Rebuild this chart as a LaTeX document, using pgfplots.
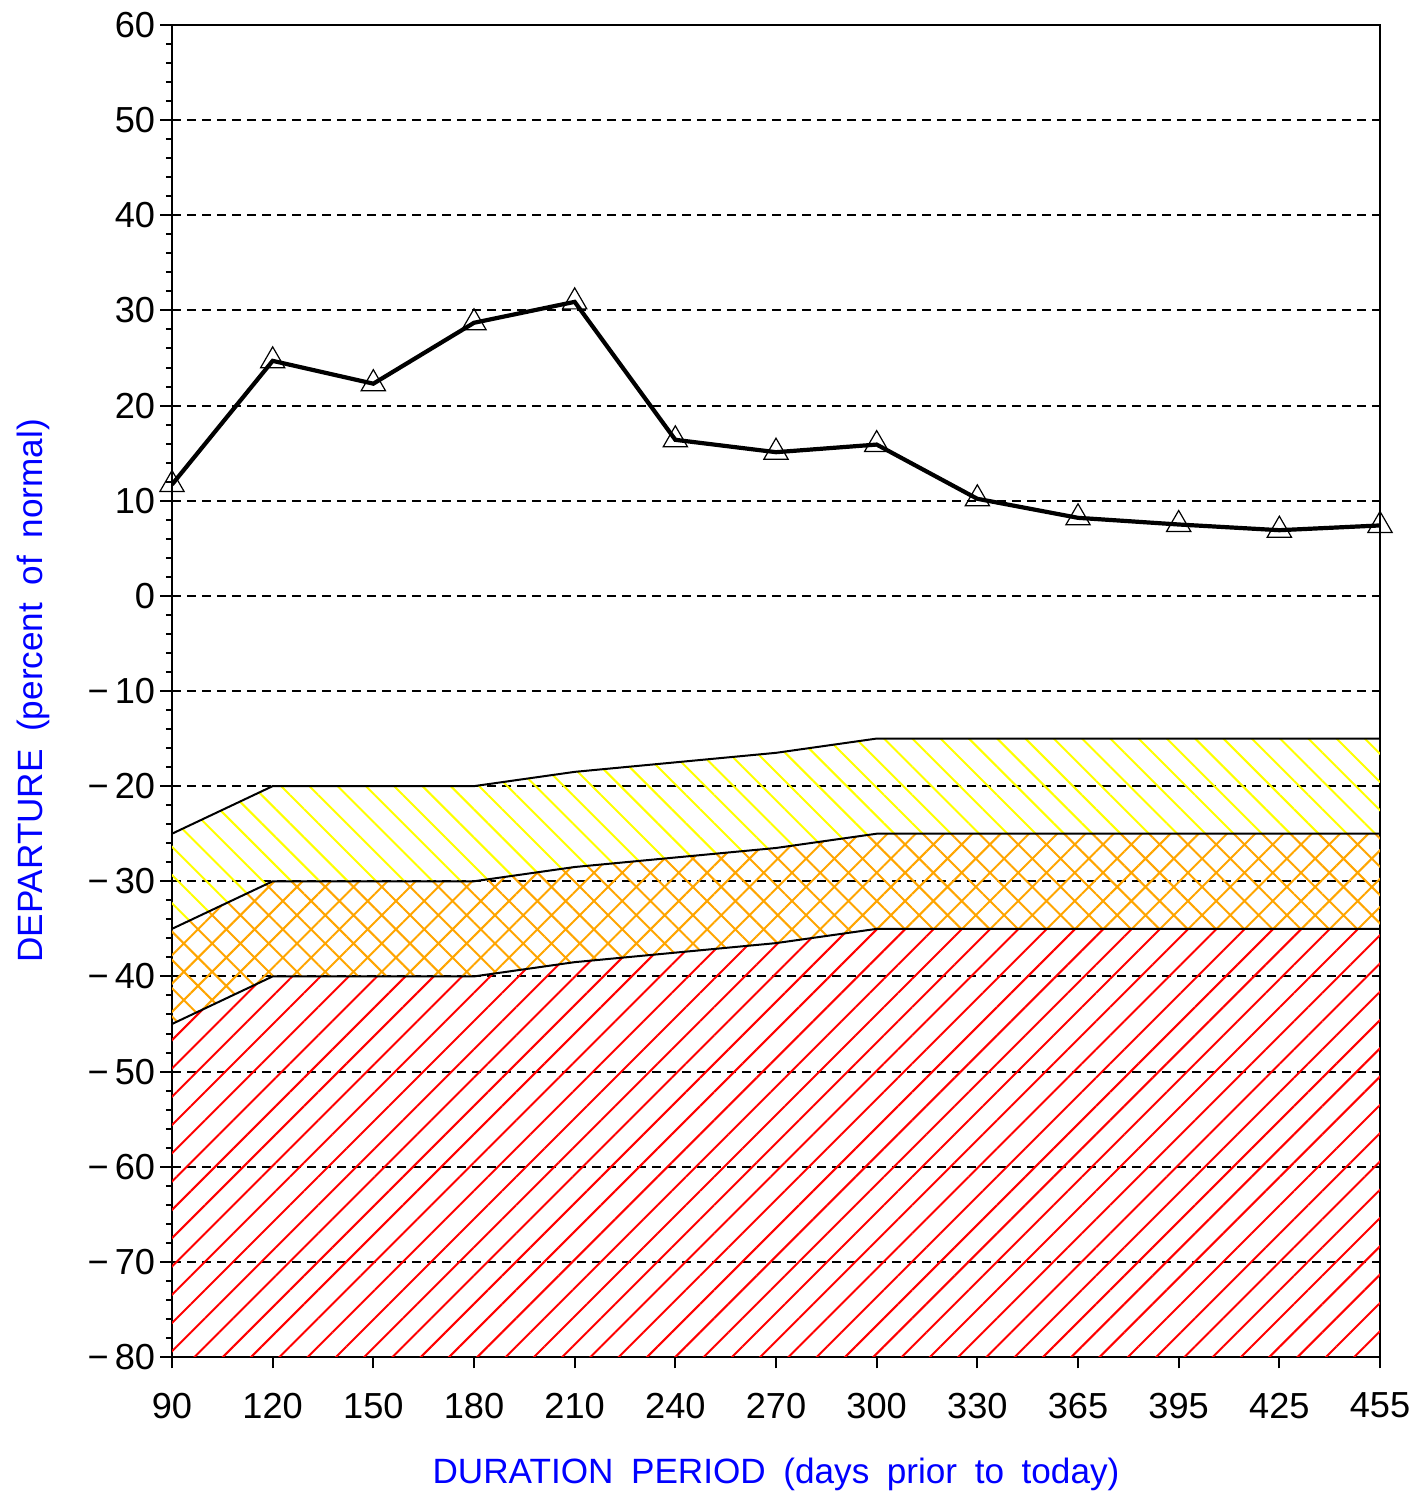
\documentclass[border=0pt]{standalone}
\usepackage{pgfplots}
\pgfplotsset{compat=1.18}
\usepackage{pgfplotstable}
\usepackage{fontspec}
\setmainfont{Liberation Sans}
\usetikzlibrary{patterns.meta}
\usepgfplotslibrary{fillbetween}
\definecolor{bandorange}{RGB}{255,165,0}
\definecolor{bandyellow}{RGB}{255,255,0}

% x: position of duration period, dep: departure, yel/ora/red: upper edge of each band
\pgfplotstableread{
x  dep   yel    ora    red
0  11.7  -25    -35    -45
1  24.7  -20    -30    -40
2  22.3  -20    -30    -40
3  28.7  -20    -30    -40
4  30.9  -18.5  -28.5  -38.5
5  16.4  -17.5  -27.5  -37.5
6  15.1  -16.5  -26.5  -36.5
7  15.9  -15    -25    -35
8  10.2  -15    -25    -35
9  8.2   -15    -25    -35
10 7.5   -15    -25    -35
11 6.9   -15    -25    -35
12 7.4   -15    -25    -35
}\dep

\newcommand{\gap}{\hspace{0.5em}}

\begin{document}
\begin{tikzpicture}
\begin{axis}[
    scale only axis,
    width=12.08cm, height=13.32cm,
    xmin=0, xmax=12, ymin=-80, ymax=60,
    xtick={0,...,12},
    xticklabels={90,120,150,180,210,240,270,300,330,365,395,425,455},
    ytick={-80,-70,...,60},
    yticklabels={−\,80,−\,70,−\,60,−\,50,−\,40,−\,30,−\,20,−\,10,0,10,20,30,40,50,60},
    minor y tick num=4,
    xtick pos=bottom, ytick pos=left,
    tick align=outside,
    major tick length=1.15mm, minor tick length=0.6mm,
    every tick/.style={black, line width=0.2mm},
    axis line style={line width=0.2mm},
    ymajorgrids,
    major grid style={black, dash pattern=on 0.9mm off 0.6mm, line width=0.2mm},
    tick label style={font=\fontsize{10.3}{12}\selectfont},
    xticklabel style={yshift=-1.2mm},
    yticklabel style={xshift=0.7mm},
    every axis x label/.style={at={(axis description cs:0.5,-0.0946)}, anchor=base},
    every axis y label/.style={at={(axis description cs:-0.1076,0.5)}, rotate=90, anchor=base},
    label style={font=\fontsize{10}{12}\selectfont, text=blue},
    xlabel={DURATION\gap PERIOD\gap (days\gap prior\gap to\gap today)},
    ylabel={DEPARTURE\gap (percent\gap of\gap normal)},
]
\addplot[name path=Y, black, line width=0.2mm] table[x=x, y=yel] {\dep};
\addplot[name path=O, black, line width=0.2mm] table[x=x, y=ora] {\dep};
\addplot[name path=R, black, line width=0.2mm] table[x=x, y=red] {\dep};
\addplot[name path=B, draw=none] coordinates {(0,-80) (12,-80)};

\addplot[pattern={Lines[angle=-45, distance=2mm, line width=0.2mm]}, pattern color=bandyellow]
    fill between[of=Y and O];
\addplot[pattern={Hatch[angle=45, distance=2mm, line width=0.2mm]}, pattern color=bandorange]
    fill between[of=O and R];
\addplot[pattern={Lines[angle=45, distance=2mm, line width=0.2mm]}, pattern color=red]
    fill between[of=R and B];

\addplot[black, line width=0.42mm, mark=triangle, mark size=1.4mm,
    mark options={line width=0.12mm, solid}] table[x=x, y=dep] {\dep};
\end{axis}
\pgfresetboundingbox
\path[use as bounding box] ([xshift=-1.72cm, yshift=-1.38cm]current axis.south west)
    rectangle ([xshift=0.34cm, yshift=0.25cm]current axis.north east);
\end{tikzpicture}
\end{document}
